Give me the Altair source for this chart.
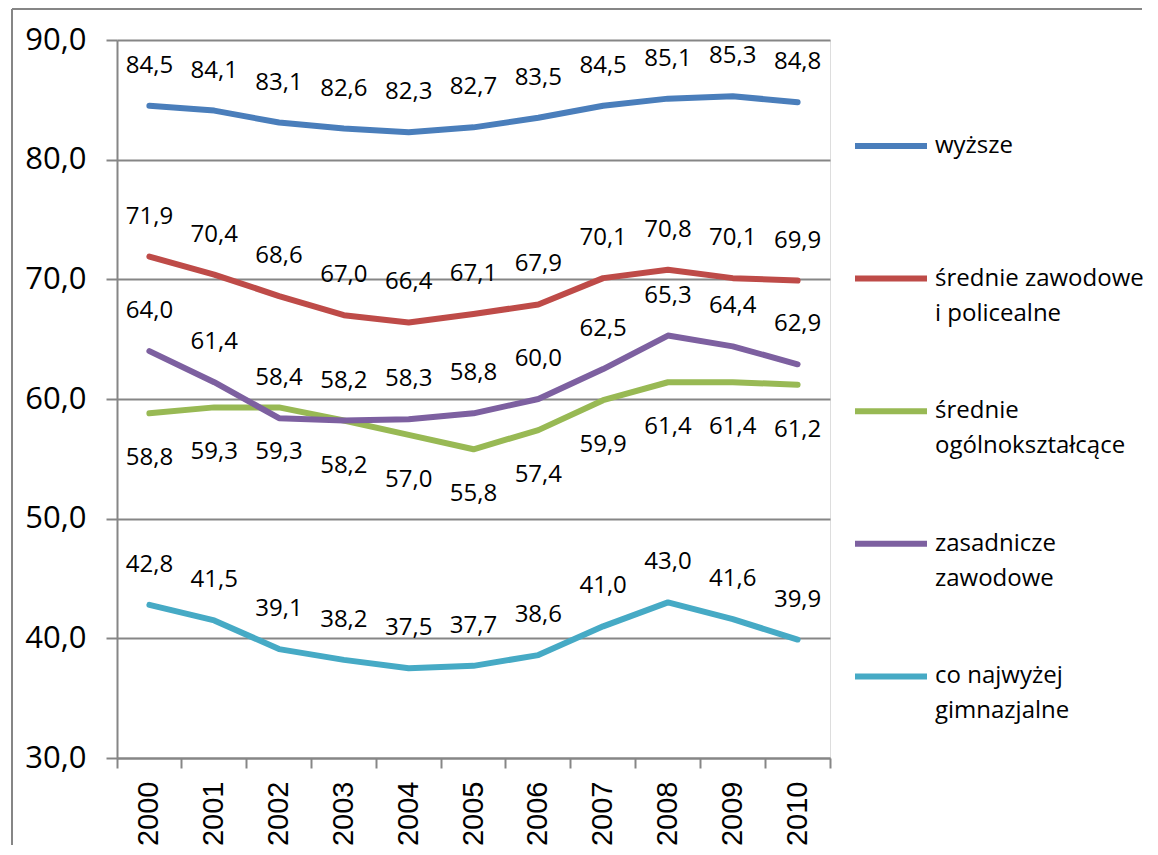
import json
import altair as alt
import pandas as pd

years = [str(y) for y in range(2000, 2011)]
series_names = [
    "wyższe",
    "średnie zawodowe i policealne",
    "średnie ogólnokształcące",
    "zasadnicze zawodowe",
    "co najwyżej gimnazjalne",
]
legend_lines = [
    ["wyższe", ""],
    ["średnie zawodowe", "i policealne"],
    ["średnie", "ogólnokształcące"],
    ["zasadnicze", "zawodowe"],
    ["co najwyżej", "gimnazjalne"],
]
colors = ["#4A7EBB", "#BE4B48", "#98B954", "#7D60A0", "#46AAC5"]

wyzsze = [84.5, 84.1, 83.1, 82.6, 82.3, 82.7, 83.5, 84.5, 85.1, 85.3, 84.8]
zawodowe_policealne = [71.9, 70.4, 68.6, 67.0, 66.4, 67.1, 67.9, 70.1, 70.8, 70.1, 69.9]
ogolnoksztalcace = [58.8, 59.3, 59.3, 58.2, 57.0, 55.8, 57.4, 59.9, 61.4, 61.4, 61.2]
zasadnicze = [64.0, 61.4, 58.4, 58.2, 58.3, 58.8, 60.0, 62.5, 65.3, 64.4, 62.9]
gimnazjalne = [42.8, 41.5, 39.1, 38.2, 37.5, 37.7, 38.6, 41.0, 43.0, 41.6, 39.9]

y_ticks = [30, 40, 50, 60, 70, 80, 90]

all_values = [wyzsze, zawodowe_policealne, ogolnoksztalcace, zasadnicze, gimnazjalne]
rows = []
for name, vals in zip(series_names, all_values):
    for yr, v in zip(years, vals):
        rows.append({"rok": yr, "seria": name, "wartosc": v})
df = pd.DataFrame(rows)

W, H = 713, 718
GRID = "#868686"
FONT = "Open Sans"

# legend label expression (two lines, first line centred on the symbol)
expr = "datum.label"
for name, lines in reversed(list(zip(series_names, legend_lines))):
    expr = f"datum.label == {json.dumps(name)} ? {json.dumps(lines)} : ({expr})"

color_scale = alt.Scale(domain=series_names, range=colors)

base = alt.Chart(df).encode(
    x=alt.X(
        "rok:N",
        sort=years,
        scale=alt.Scale(type="band", paddingInner=0, paddingOuter=0),
        axis=alt.Axis(
            title=None,
            labelAngle=-90,
            labelFont="Liberation Sans",
            labelFontSize=29,
            labelColor="black",
            labelPadding=13,
            bandPosition=1,
            tickExtra=True,
            tickSize=10,
            tickWidth=2,
            tickColor=GRID,
            domainColor=GRID,
            domainWidth=2,
            grid=False,
        ),
    ),
    y=alt.Y(
        "wartosc:Q",
        scale=alt.Scale(domain=[30, 90], nice=False, zero=False),
        axis=alt.Axis(
            title=None,
            values=y_ticks,
            labelExpr="replace(format(datum.value, '.1f'), '.', ',')",
            labelFont=FONT,
            labelFontSize=31,
            labelColor="black",
            labelPadding=20,
            tickSize=11,
            tickWidth=2,
            tickColor=GRID,
            domainColor=GRID,
            domainWidth=2,
            grid=True,
            gridColor=GRID,
            gridWidth=2,
        ),
    ),
)

lines = base.mark_line(strokeWidth=6, strokeCap="round", strokeJoin="round").encode(
    color=alt.Color(
        "seria:N",
        scale=color_scale,
        sort=series_names,
        legend=alt.Legend(
            title=None,
            orient="none",
            legendX=735,
            legendY=67,
            padding=0,
            symbolType="stroke",
            symbolSize=72 * 72,
            symbolStrokeWidth=6,
            labelFont=FONT,
            labelFontSize=24,
            labelColor="black",
            labelOffset=5,
            labelLimit=400,
            labelBaseline="middle",
            labelExpr=expr,
            rowPadding=46.6,
        ),
    )
)

label_text = "replace(format(datum.wartosc, '.1f'), '.', ',')"

labels_above = (
    base.transform_filter(alt.datum.seria != "średnie ogólnokształcące")
    .transform_calculate(etykieta=label_text)
    .mark_text(dy=-40, font=FONT, fontSize=24, color="black")
    .encode(text="etykieta:N")
)
labels_below = (
    base.transform_filter(alt.datum.seria == "średnie ogólnokształcące")
    .transform_calculate(etykieta=label_text)
    .mark_text(dy=45, font=FONT, fontSize=24, color="black")
    .encode(text="etykieta:N")
)

frame_left = alt.Chart(df).mark_rule(color=GRID, strokeWidth=2).encode(
    x=alt.value(-105), y=alt.value(-31), y2=alt.value(805)
)
frame_top = alt.Chart(df).mark_rule(color=GRID, strokeWidth=2).encode(
    x=alt.value(-105), x2=alt.value(1025), y=alt.value(-31)
)

chart = (
    alt.layer(frame_left, frame_top, lines, labels_above, labels_below)
    .properties(width=W, height=H, padding={"left": 3, "top": 0, "right": 0, "bottom": 0})
    .configure_view(stroke=None)
    .configure(style={"guide-label": {"lineHeight": 35}})
)

chart.save("out.html", embed_options={"renderer": "svg", "actions": False})
